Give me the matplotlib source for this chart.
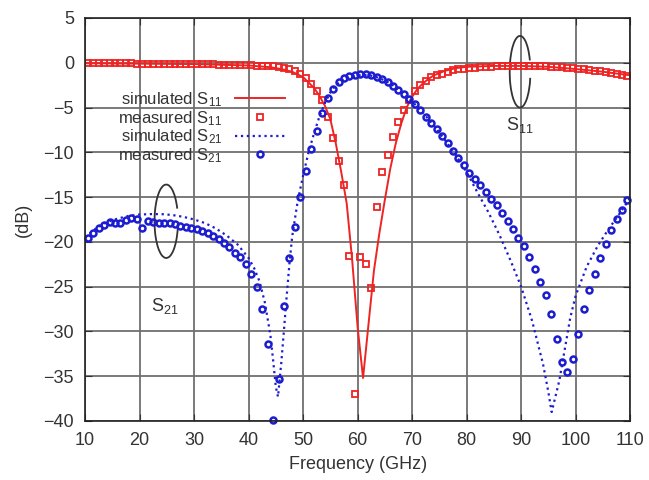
import numpy as np
import matplotlib
matplotlib.use('Agg')
import matplotlib.pyplot as plt
from matplotlib.patches import Arc

plt.rcParams['font.family'] = ['Liberation Sans', 'DejaVu Sans']
plt.rcParams['mathtext.fontset'] = 'custom'
plt.rcParams['mathtext.rm'] = 'Liberation Sans'
plt.rcParams['mathtext.it'] = 'Liberation Sans:italic'

# measured data, one point per GHz (10.5 ... 109.5)
f_meas = np.arange(10.5, 110, 1.0)
s11_meas = [
    -0.05, -0.05, -0.05, -0.06, -0.06, -0.07, -0.07, -0.08, -0.08, -0.09,
    -0.10, -0.10, -0.10, -0.11, -0.12, -0.12, -0.13, -0.14, -0.14, -0.15,
    -0.16, -0.17, -0.18, -0.19, -0.20, -0.21, -0.22, -0.24, -0.25, -0.27,
    -0.29, -0.31, -0.34, -0.37, -0.40, -0.48, -0.58, -0.72, -0.95, -1.30,
    -1.75, -2.4, -3.2, -4.2, -6.1, -8.4, -11.0, -13.7, -21.6, -37.0,
    -21.7, -22.5, -25.1, -16.1, -12.2, -10.3, -8.3, -6.6, -5.3, -4.2,
    -3.2, -2.5, -2.0, -1.6, -1.4, -1.2, -1.0, -0.85, -0.75, -0.68,
    -0.62, -0.56, -0.50, -0.45, -0.42, -0.40, -0.38, -0.36, -0.35, -0.35,
    -0.35, -0.36, -0.37, -0.39, -0.41, -0.44, -0.47, -0.51, -0.55, -0.60,
    -0.66, -0.73, -0.80, -0.88, -0.96, -1.05, -1.14, -1.24, -1.34, -1.45,
]
s21_meas = [
    -19.6, -19.0, -18.5, -18.1, -17.8, -17.9, -17.9, -17.6, -17.3, -17.5,
    -18.5, -17.7, -17.8, -17.9, -17.9, -17.9, -18.0, -18.2, -18.3, -18.4,
    -18.6, -18.8, -19.0, -19.3, -19.7, -20.1, -20.6, -21.2, -21.7, -22.5,
    -23.6, -25.0, -27.5, -31.4, -39.9, -35.3, -27.2, -21.8, -18.3, -15.0,
    -12.1, -9.6, -7.6, -5.6, -3.9, -2.9, -2.2, -1.75, -1.5, -1.35,
    -1.25, -1.25, -1.35, -1.55, -1.85, -2.2, -2.6, -3.0, -3.5, -4.0,
    -4.6, -5.3, -6.0, -6.7, -7.4, -8.2, -9.0, -9.8, -10.6, -11.4,
    -12.3, -13.0, -13.6, -14.4, -15.2, -15.9, -16.8, -17.7, -18.6, -19.6,
    -20.5, -21.7, -23.0, -24.5, -25.9, -28.0, -30.8, -33.4, -34.5, -33.1,
    -30.3, -27.5, -25.4, -23.6, -21.8, -20.2, -18.7, -17.5, -16.4, -15.3,
]

# simulated curves
f_sim11 = [10, 20, 30, 40, 44, 46, 48, 50, 52, 53, 54, 55, 56, 57, 58, 59, 60,
           61, 62, 63, 64, 65, 66, 67, 68, 69, 70, 71, 72, 73, 74, 76, 78, 80,
           85, 90, 95, 100, 105, 110]
s11_sim = [-0.05, -0.1, -0.15, -0.3, -0.5, -0.7, -1.0, -1.6, -2.8, -3.7, -4.8,
           -6.3, -9.0, -12.2, -15.7, -22.0, -29.5, -35.2, -29.2, -23.2, -19.0,
           -15.3, -11.8, -9.0, -6.8, -5.0, -3.8, -2.9, -2.3, -1.8, -1.4, -0.9,
           -0.6, -0.45, -0.35, -0.35, -0.45, -0.7, -1.0, -1.4]

f_sim21 = [10, 12, 14, 16, 18, 20, 22, 24, 26, 28, 30, 32, 34, 36, 38, 40, 41,
           42, 43, 44, 44.5, 45, 45.4, 46, 46.5, 47, 47.5, 48, 49, 50, 51, 52,
           53, 54, 55, 56, 57, 58, 60, 62, 64, 66, 68, 70, 72, 74, 76, 78, 80,
           82, 84, 86, 88, 90, 92, 94, 95, 95.6, 96, 97, 98, 99, 100, 102, 104,
           106, 108, 110]
s21_sim = [-19.5, -18.5, -17.8, -17.4, -17.1, -16.95, -16.9, -16.9, -17.0,
           -17.2, -17.5, -17.9, -18.5, -19.3, -20.3, -21.8, -22.9, -24.4, -26.8,
           -30.4, -33.2, -36.2, -37.3, -33.5, -29.8, -26.0, -22.4, -19.4, -15.5,
           -12.6, -10.0, -7.9, -6.0, -4.5, -3.3, -2.5, -2.0, -1.7, -1.4, -1.35,
           -1.7, -2.3, -3.2, -4.3, -5.6, -7.0, -8.6, -10.3, -12.2, -14.5, -16.7,
           -19.2, -22.0, -25.0, -28.8, -33.6, -36.8, -39.0, -38.0, -35.5, -32.0,
           -28.5, -26.0, -22.8, -20.5, -18.6, -16.9, -15.1]

red = '#ee2424'
blue = '#1c1cd0'
txt = '#333333'
fs = 13

fig = plt.figure(figsize=(6.49, 4.8), dpi=100)
ax = fig.add_axes([0.131, 0.123, 0.840, 0.8395])

ax.plot(f_sim11, s11_sim, color=red, lw=1.4, label=r'simulated S$_{11}$')
ax.plot(f_meas, s11_meas, 's', color=red, mfc='none', mew=1.3, ms=5,
        label=r'measured S$_{11}$')
ax.plot(f_sim21, s21_sim, ':', color=blue, lw=1.6, label=r'simulated S$_{21}$')
ax.plot(f_meas, s21_meas, 'o', color=blue, mfc='none', mew=1.8, ms=4.3,
        label=r'measured S$_{21}$', clip_on=False)

ax.set_xlim(10, 110)
ax.set_ylim(-40, 5)
ax.set_xticks(np.arange(10, 111, 10))
ax.set_yticks(np.arange(-40, 6, 5))
ax.grid(True, color='#707070', lw=1.3)
ax.set_axisbelow(True)
ax.tick_params(direction='in', top=True, right=True, length=5, labelsize=fs,
               colors=txt, pad=8)
ax.tick_params(axis='x', pad=8)
for s in ax.spines.values():
    s.set_linewidth(1.2)
    s.set_color('#222222')

ax.set_xlabel('Frequency (GHz)', fontsize=fs, color=txt, labelpad=5)
ax.set_ylabel('(dB)', fontsize=fs, color=txt, labelpad=8)

leg = ax.legend(loc='upper right', bbox_to_anchor=(0.367, 0.821), frameon=False,
                markerfirst=False, fontsize=12, handlelength=3.0,
                handletextpad=0.75, labelspacing=0.0, borderpad=0,
                borderaxespad=0, numpoints=1)
for t in leg.get_texts():
    t.set_color(txt)

# "which curve" ellipses
ax.add_patch(Arc((89.8, -1.0), 3.8, 8.0, theta1=35, theta2=340,
                 color=txt, lw=1.3))
ax.text(89.8, -6.9, r'S$_{11}$', ha='center', va='center', fontsize=fs,
        color=txt)
ax.add_patch(Arc((24.9, -17.7), 4.3, 8.2, theta1=35, theta2=340,
                 color=txt, lw=1.3))
ax.text(24.7, -27.2, r'S$_{21}$', ha='center', va='center', fontsize=fs,
        color=txt)

fig.savefig('out.png', dpi=100)
